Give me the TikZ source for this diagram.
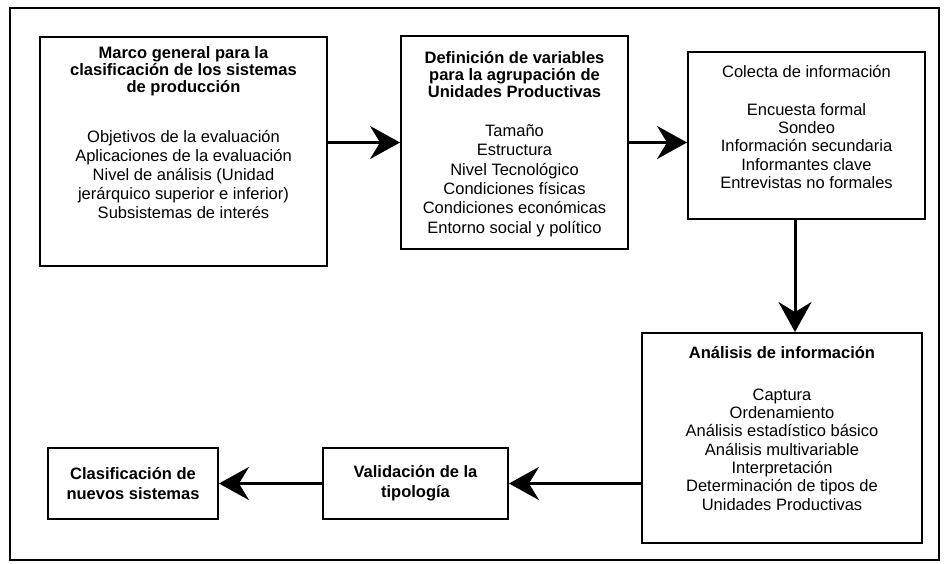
\documentclass[tikz,border=0pt]{standalone}
\usepackage{fontspec}
\setmainfont{Liberation Sans}
\usetikzlibrary{arrows.meta}
\begin{document}
\begin{tikzpicture}[x=1pt,y=-1pt,
  procbox/.style={draw, line width=1.9pt, inner sep=0pt},
  txt/.style={anchor=north, align=center, inner sep=0pt},
  flow/.style={line width=3pt, -{Stealth[length=30pt,width=33pt,inset=10pt]}},
  frame/.style={line width=2.4pt}]
\useasboundingbox (0,0) rectangle (946,564);
\draw[frame] (10,8) rectangle (939,560);

% boxes
\node[procbox, minimum width=287pt, minimum height=229pt] (b1) at (183.5,151.5) {};
\node[procbox, minimum width=227pt, minimum height=213pt] (b2) at (514.5,142.5) {};
\node[procbox, minimum width=237pt, minimum height=167pt] (b3) at (806.5,135.5) {};
\node[procbox, minimum width=280pt, minimum height=210pt] (b4) at (782,438) {};
\node[procbox, minimum width=185pt, minimum height=71pt, align=center,
      font=\fontsize{16.5}{20}\selectfont\bfseries] (b5) at (415.5,483.5)
      {Validación de la\\tipología};
\node[procbox, minimum width=170pt, minimum height=71pt, align=center,
      font=\fontsize{16.5}{20}\selectfont\bfseries] (b6) at (133,483.5)
      {Clasificación de\\nuevos sistemas};

% texts
\node[txt, font=\fontsize{16.5}{19}\selectfont] (t1) at ([yshift=-7pt]b1.north)
 {\rule{0pt}{15pt}\textbf{Marco general para la}\\[-2pt]
  \textbf{clasificación de los sistemas}\\[-2pt]
  \textbf{de producción}\\[31pt]
  Objetivos de la evaluación\\
  Aplicaciones de la evaluación\\
  Nivel de análisis (Unidad\\
  jerárquico superior e inferior)\\
  Subsistemas de interés};

\node[txt, font=\fontsize{16.5}{19.4}\selectfont] (t2) at ([yshift=-13pt]b2.north)
 {\rule{0pt}{15pt}\textbf{Definición de variables}\\[-2.4pt]
  \textbf{para la agrupación de}\\[-2.4pt]
  \textbf{Unidades Productivas}\\[19.6pt]
  Tamaño\\
  Estructura\\
  Nivel Tecnológico\\
  Condiciones físicas\\
  Condiciones económicas\\
  Entorno social y político};

\node[txt, font=\fontsize{16.5}{18.3}\selectfont] (t3) at ([yshift=-11pt]b3.north)
 {\rule{0pt}{15pt}Colecta de información\\[19.7pt]
  Encuesta formal\\
  Sondeo\\
  Información secundaria\\
  Informantes clave\\
  Entrevistas no formales};

\node[txt, font=\fontsize{16.5}{18.3}\selectfont] (t4) at ([yshift=-11pt]b4.north)
 {\rule{0pt}{15pt}\textbf{Análisis de información}\\[23.7pt]
  Captura\\
  Ordenamiento\\
  Análisis estadístico básico\\
  Análisis multivariable\\
  Interpretación\\
  Determinación de tipos de\\
  Unidades Productivas};

% connectors
\coordinate (vx) at (795,0);
\draw[flow] (b1.east |- b2.west) -- (b2.west);
\draw[flow] (b2.east) -- (b2.east -| b3.west);
\draw[flow] (b3.south -| vx) -- (b4.north -| vx);
\draw[flow] (b4.west |- b5.east) -- (b5.east);
\draw[flow] (b5.west) -- (b6.east);
\end{tikzpicture}
\end{document}
